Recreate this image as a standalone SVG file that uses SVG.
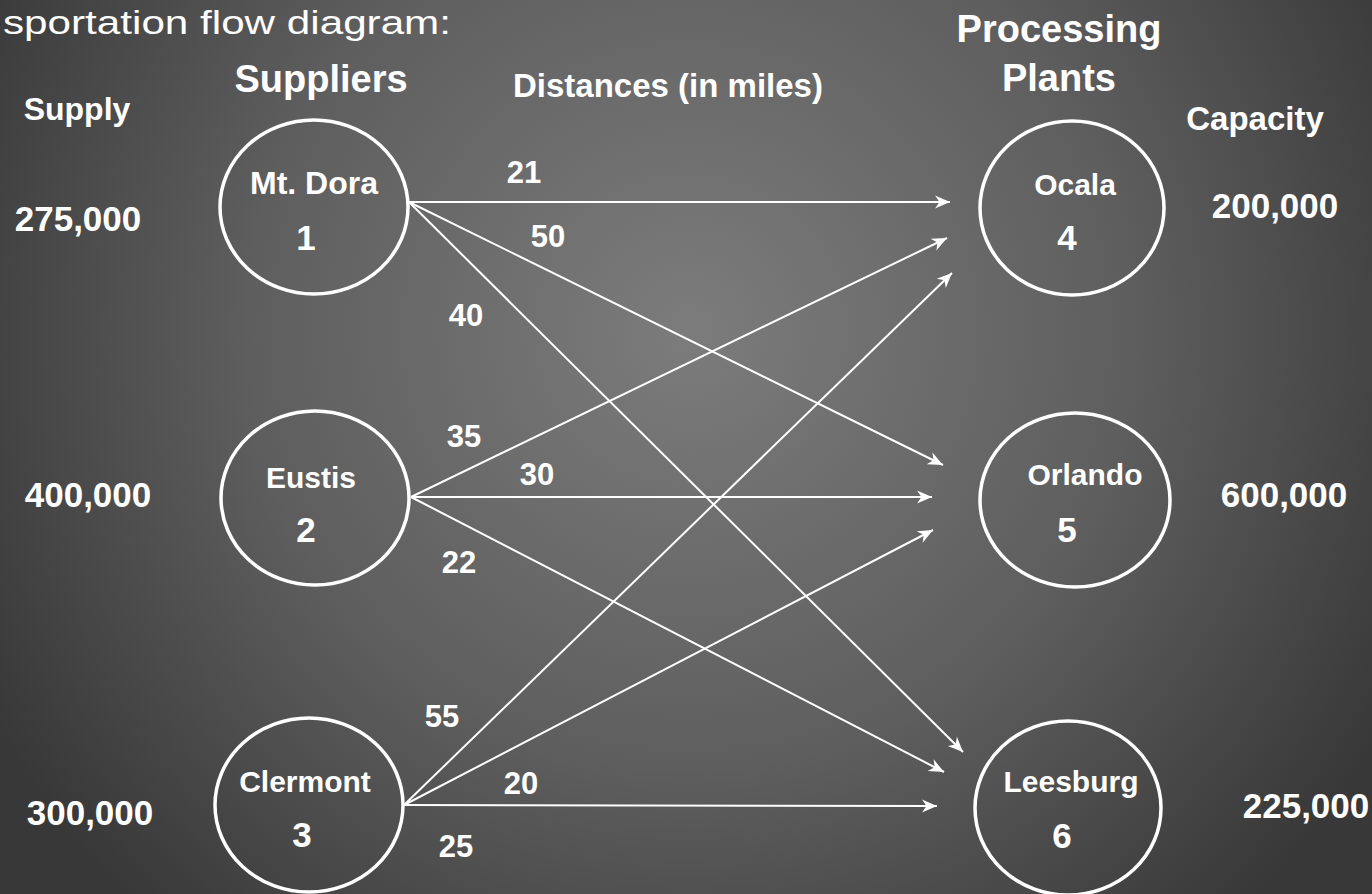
<svg xmlns="http://www.w3.org/2000/svg" width="1372" height="894" viewBox="0 0 1372 894">
<defs>
<radialGradient id="bg" gradientUnits="userSpaceOnUse" cx="690" cy="330" r="800">
<stop offset="0" stop-color="#7c7c7c"/>
<stop offset="0.55" stop-color="#5e5e5e"/>
<stop offset="1" stop-color="#383838"/>
</radialGradient>
<marker id="arr" markerUnits="userSpaceOnUse" viewBox="-16 -8 18 16" refX="0" refY="0" markerWidth="18" markerHeight="16" orient="auto">
<path d="M-15,-6.5 L0,0 L-15,6.5 L-10.5,0 Z" fill="#ffffff"/>
</marker>
<style>
text{font-family:"Liberation Sans",Arial,sans-serif;fill:#ffffff;font-weight:bold;text-anchor:middle}
.node ellipse{fill:none;stroke:#ffffff;stroke-width:3.5}
.nm{font-size:30px}
.num{font-size:35px}
.cap{font-size:35px}
.dist{font-size:31px}
.hdr{font-size:33px}
.conn line{stroke:#ffffff;stroke-width:2;marker-end:url(#arr)}
</style>
</defs>
<rect x="0" y="0" width="1372" height="894" fill="url(#bg)"/>
<text x="3" y="34" textLength="448" lengthAdjust="spacingAndGlyphs" style="font-size:34px;font-weight:normal;text-anchor:start">sportation flow diagram:</text>
<text x="321" y="92" style="font-size:38px">Suppliers</text>
<text x="77" y="120" style="font-size:32px">Supply</text>
<text x="668" y="97" class="hdr">Distances (in miles)</text>
<text x="1059" y="42" style="font-size:38px">Processing</text>
<text x="1059" y="91" style="font-size:38px">Plants</text>
<text x="1255" y="130" class="hdr">Capacity</text>
<g id="supply">
<text x="78" y="231" class="cap">275,000</text>
<text x="88" y="507" class="cap">400,000</text>
<text x="90" y="825" class="cap">300,000</text>
</g>
<g id="capacity">
<text x="1275" y="218" class="cap">200,000</text>
<text x="1284" y="507" class="cap">600,000</text>
<text x="1306" y="818" class="cap">225,000</text>
</g>
<g class="conn" id="connectors">
<line x1="409" y1="202" x2="950" y2="202"/>
<line x1="409" y1="202" x2="943" y2="465"/>
<line x1="409" y1="202" x2="963" y2="752"/>
<line x1="411" y1="497" x2="947" y2="238"/>
<line x1="411" y1="497" x2="932" y2="497"/>
<line x1="411" y1="497" x2="944" y2="772"/>
<line x1="404" y1="805" x2="952" y2="273"/>
<line x1="404" y1="805" x2="933" y2="530"/>
<line x1="404" y1="805" x2="937" y2="806"/>
</g>
<g id="distances">
<text x="524" y="183" class="dist">21</text>
<text x="548" y="247" class="dist">50</text>
<text x="466" y="326" class="dist">40</text>
<text x="464" y="447" class="dist">35</text>
<text x="537" y="485" class="dist">30</text>
<text x="459" y="573" class="dist">22</text>
<text x="442" y="727" class="dist">55</text>
<text x="521" y="794" class="dist">20</text>
<text x="456" y="857" class="dist">25</text>
</g>
<g class="node" id="node1">
<ellipse cx="314" cy="207" rx="94" ry="87"/>
<text x="314" y="194" class="nm" style="font-size:32px">Mt. Dora</text>
<text x="306" y="250" class="num">1</text>
</g>
<g class="node" id="node2">
<ellipse cx="315" cy="498" rx="94" ry="87"/>
<text x="311" y="488" class="nm">Eustis</text>
<text x="306" y="542" class="num">2</text>
</g>
<g class="node" id="node3">
<ellipse cx="309" cy="805" rx="94" ry="87"/>
<text x="305" y="792" class="nm">Clermont</text>
<text x="302" y="847" class="num">3</text>
</g>
<g class="node" id="node4">
<ellipse cx="1072" cy="208" rx="92" ry="87"/>
<text x="1075" y="195" class="nm">Ocala</text>
<text x="1067" y="250" class="num">4</text>
</g>
<g class="node" id="node5">
<ellipse cx="1075" cy="500" rx="95" ry="87"/>
<text x="1085" y="485" class="nm">Orlando</text>
<text x="1067" y="542" class="num">5</text>
</g>
<g class="node" id="node6">
<ellipse cx="1068" cy="808" rx="93" ry="87"/>
<text x="1071" y="792" class="nm">Leesburg</text>
<text x="1062" y="848" class="num">6</text>
</g>
</svg>
